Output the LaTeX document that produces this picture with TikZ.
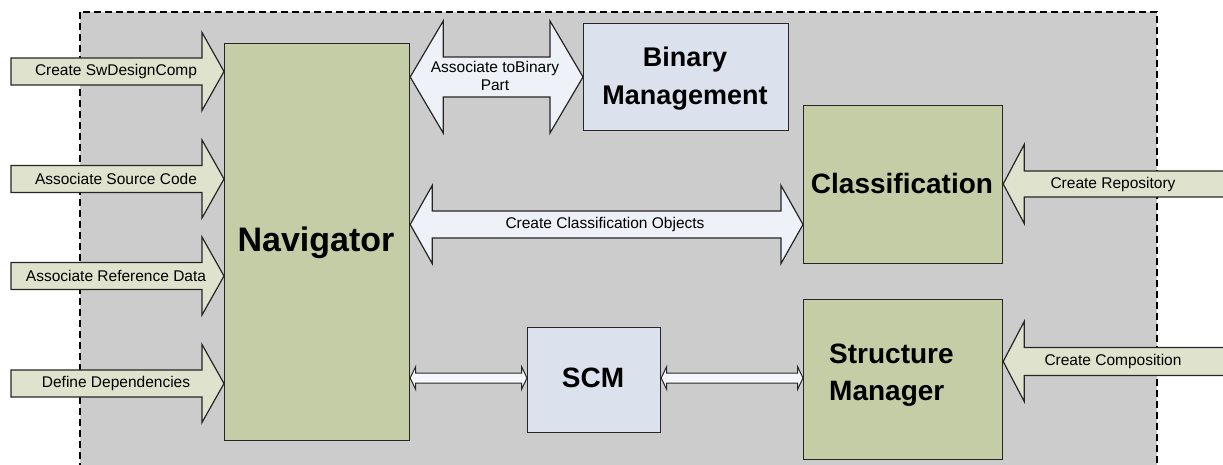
\documentclass[tikz,border=0pt]{standalone}
\usepackage{fontspec}
\setmainfont{Liberation Sans}
\begin{document}
\begin{tikzpicture}[x=1pt,y=-1pt,
  edge/.style={draw=black!85,line width=1.2pt,line join=miter},
  greenbox/.style={edge,fill=boxgreen,inner sep=0pt,anchor=north west},
  bluebox/.style={edge,fill=boxblue,inner sep=0pt,anchor=north west},
  inarrow/.style={edge,fill=arrowgreen},
  linkarrow/.style={edge,fill=arrowblue},
  thinlink/.style={edge,line width=1pt,fill=arrowwhite},
  lbl/.style={inner sep=0pt,font=\fontsize{15.5}{18}\selectfont,align=center},
  bigtitle/.style={font=\fontsize{#1}{#1}\selectfont\bfseries,align=center,inner sep=0pt}
]
\definecolor{boxgreen}{HTML}{C5CDA6}
\definecolor{boxblue}{HTML}{DCE1EE}
\definecolor{arrowgreen}{HTML}{DFE2CC}
\definecolor{arrowblue}{HTML}{EEF1F8}
\definecolor{arrowwhite}{HTML}{F5F7FA}
\definecolor{panel}{HTML}{CCCCCC}

% single block arrow: [style]{tail}{tip}{head length}{body half}{head half}
\newcommand{\blockarrow}[6][]{%
  \filldraw[#1] ([shift={(0,{-(#5)})}]#2) -- ([shift={({-(#4)},{-(#5)})}]#3)
    -- ([shift={({-(#4)},{-(#6)})}]#3) -- (#3) -- ([shift={({-(#4)},{#6})}]#3)
    -- ([shift={({-(#4)},{#5})}]#3) -- ([shift={(0,{#5})}]#2) -- cycle;}
% double block arrow: [style]{left tip}{right tip}{head length}{body half}{head half}
\newcommand{\dblarrow}[6][]{%
  \filldraw[#1] (#2) -- ([shift={({#4},{-(#6)})}]#2) -- ([shift={({#4},{-(#5)})}]#2)
    -- ([shift={({-(#4)},{-(#5)})}]#3) -- ([shift={({-(#4)},{-(#6)})}]#3) -- (#3)
    -- ([shift={({-(#4)},{#6})}]#3) -- ([shift={({-(#4)},{#5})}]#3)
    -- ([shift={({#4},{#5})}]#2) -- ([shift={({#4},{#6})}]#2) -- cycle;}

\useasboundingbox (0,0) rectangle (1223,465);
\clip (0,0) rectangle (1223,465);

% system boundary
\filldraw[fill=panel,draw=black,line width=1.1pt,dash pattern=on 7pt off 4pt]
  (80,12) rectangle (1157,480);

% components
\node[greenbox,minimum width=185pt,minimum height=397pt] (nav) at (224,43) {};
\node[bluebox,minimum width=205pt,minimum height=107pt] (bin) at (583,23) {};
\node[greenbox,minimum width=199pt,minimum height=158pt] (cls) at (803,105) {};
\node[greenbox,minimum width=199pt,minimum height=160pt] (str) at (803,299) {};
\node[bluebox,minimum width=133pt,minimum height=105pt] (scm) at (527,327) {};

\node[bigtitle=34] (navt) at (316,243) {Navigator};
\node[bigtitle=27] (bint) at (685,79) {Binary\\[11pt]Management};
\node[bigtitle=28] (clst) at (902,183) {Classification};
\node[bigtitle=28,align=left,anchor=west] (strt) at (829,375) {Structure\\[9pt]Manager};
\node[bigtitle=28] (scmt) at (593,378) {SCM};

% incoming requests to the navigator
\foreach \i/\yy in {1/71.5,2/179,3/276,4/383.5}{
  \coordinate (in\i tail) at (11,\yy);
  \coordinate (in\i tip) at (nav.west |- 0,\yy);
  \blockarrow[inarrow]{in\i tail}{in\i tip}{22}{13.5}{39}
}
\node[lbl] (l1) at (116,71.5) {Create SwDesignComp};
\node[lbl] (l2) at (116,179) {Associate Source Code};
\node[lbl] (l3) at (116,276) {Associate Reference Data};
\node[lbl] (l4) at (116,383.5) {Define Dependencies};

% navigator <-> binary management
\coordinate (b1) at (nav.east |- 0,77);
\coordinate (b2) at (bin.west |- 0,77);
\dblarrow[linkarrow]{b1}{b2}{33}{20}{56}
\node[lbl] (lb) at (495,76) {Associate toBinary\\Part};

% navigator <-> classification
\coordinate (c1) at (nav.east |- 0,224.5);
\coordinate (c2) at (cls.west |- 0,224.5);
\dblarrow[linkarrow]{c1}{c2}{22}{13.5}{39}
\node[lbl] (lc) at (605,224) {Create Classification Objects};

% navigator <-> SCM <-> structure manager
\coordinate (s1) at (nav.east |- 0,378);
\coordinate (s2) at (scm.west |- 0,378);
\coordinate (s3) at (scm.east |- 0,378);
\coordinate (s4) at (str.west |- 0,378);
\dblarrow[thinlink]{s1}{s2}{5.5}{5}{11.5}
\dblarrow[thinlink]{s3}{s4}{5.5}{5}{11.5}

% requests from outside on the right
\coordinate (r1tail) at (1240,184);
\coordinate (r1tip) at (cls.east |- 0,184);
\blockarrow[inarrow]{r1tail}{r1tip}{-21}{13}{39.5}
\node[lbl] (lr1) at (1113,184) {Create Repository};
\coordinate (r2tail) at (1240,361.5);
\coordinate (r2tip) at (str.east |- 0,361.5);
\blockarrow[inarrow]{r2tail}{r2tip}{-21}{14}{40}
\node[lbl] (lr2) at (1113,361.5) {Create Composition};
\end{tikzpicture}
\end{document}
